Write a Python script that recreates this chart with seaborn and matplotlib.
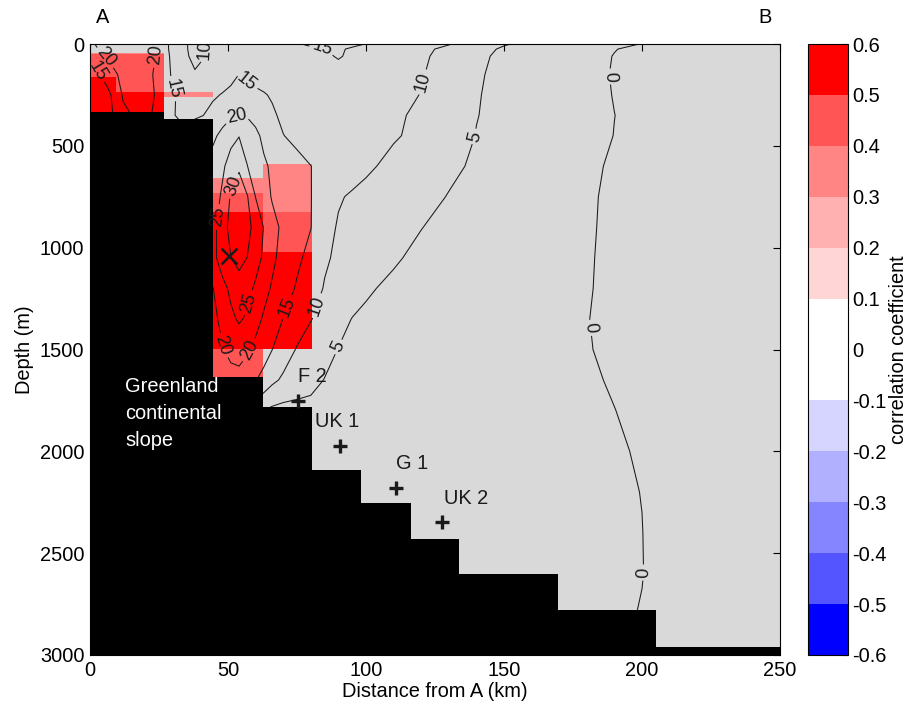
import numpy as np
import matplotlib
matplotlib.use("Agg")
import matplotlib.pyplot as plt
import seaborn as sns
from matplotlib.colors import ListedColormap, BoundaryNorm
from matplotlib.cm import ScalarMappable

# ---------------- data ----------------
# bathymetry (step edges in km, bottom depth in m)
bathy_x = [0, 26.8, 44.5, 62.6, 80.3, 98.2, 116.2, 133.8, 169.4, 205, 250]
bathy_depth = [335, 368, 1636, 1781, 2092, 2254, 2428, 2604, 2781, 2961]

# correlation cells
corr_x_edges = [0, 9.3, 26.8, 44.5, 62.6, 80.3]
corr_depth_edges = [42, 50, 161, 235, 259, 335, 590, 660, 733, 825, 1022, 1497, 1636]
nan = np.nan
corr_values = [
    [0.35, 0.35, nan, nan, nan],
    [0.45, 0.45, nan, nan, nan],
    [0.55, 0.45, nan, nan, nan],
    [0.55, 0.55, 0.35, nan, nan],
    [0.55, 0.55, nan, nan, nan],
    [nan, nan, nan, nan, nan],
    [nan, nan, nan, nan, 0.35],
    [nan, nan, nan, 0.35, 0.35],
    [nan, nan, nan, 0.45, 0.35],
    [nan, nan, nan, 0.55, 0.45],
    [nan, nan, nan, 0.55, 0.55],
    [nan, nan, nan, 0.45, nan],
]
corr_levels = [-0.6, -0.5, -0.4, -0.3, -0.2, -0.1, 0, 0.1, 0.2, 0.3, 0.4, 0.5, 0.6]
corr_colors = ['#0000FF', '#5555FF', '#8585FF', '#B0B0FF', '#D5D5FF', '#FFFFFF',
               '#FFFFFF', '#FFD5D5', '#FFB0B0', '#FF8585', '#FF5555', '#FF0000']

# velocity-like field (contoured), read on a coarse grid
speed_x = [0, 6, 12, 18, 24, 30, 35, 38, 41, 44.5, 48, 51, 54, 57, 60, 63, 66, 70, 75,
           80, 85, 90, 95, 100, 110, 120, 130, 140, 150, 160, 170, 180, 190, 200, 210, 230, 250]
speed_depth = [0, 25, 60, 150, 250, 350, 450, 600, 750, 900, 1050, 1200, 1350, 1500,
               1650, 1800, 2000, 2200, 2400, 2600, 2800, 3000]
speed_rows = [
    [19.4, 21.5, 22.5, 22.5, 20.0, 13.2, 10.2, 8.5, 9.9, 11.5, 12.0, 12.3, 12.5, 12.8, 13.2, 13.5, 13.8, 14.2, 14.8, 15.4, 16.0, 16.3, 16.0, 14.9, 13.4, 11.8, 10.25, 7.8, 5.3, 4.1, 3.0, 2.0, 0.9, -0.1, -0.9, -2.0, -2.5],
    [19.2, 20.8, 22.5, 22.5, 20.0, 13.3, 10.2, 8.7, 9.8, 11.2, 11.8, 12.1, 12.3, 12.6, 12.9, 13.2, 13.5, 13.9, 14.3, 14.6, 14.9, 15.6, 14.4, 14.2, 12.6, 11.0, 8.95, 6.3, 4.5, 3.4, 2.3, 1.2, 0.1, -0.7, -1.2, -2.0, -2.5],
    [15.3, 20.1, 22.0, 22.0, 19.9, 13.8, 10.3, 9.2, 9.85, 10.8, 11.4, 11.8, 12.1, 12.3, 12.5, 12.7, 12.9, 13.2, 13.5, 13.8, 14.0, 15.5, 13.9, 13.7, 12.2, 10.7, 8.5, 5.8, 4.2, 3.2, 2.1, 1.0, -0.1, -0.8, -1.3, -2.0, -2.5],
    [12.5, 17.2, 21.4, 21.5, 19.6, 14.3, 10.2, 10.3, 10.8, 11.6, 12.5, 13.8, 15.05, 14.2, 13.5, 13.2, 13.0, 12.9, 12.8, 12.7, 12.6, 12.6, 12.5, 12.4, 11.3, 10.3, 8.0, 5.4, 4.1, 3.0, 1.9, 0.9, -0.2, -0.9, -1.4, -2.1, -2.6],
    [10.5, 13.0, 20.5, 21.2, 19.85, 15.4, 13.5, 13.2, 13.6, 14.3, 15.3, 16.0, 16.3, 16.2, 15.9, 15.3, 14.6, 14.0, 13.5, 13.2, 12.9, 12.6, 12.4, 12.2, 11.1, 9.9, 7.55, 5.2, 4.1, 3.0, 2.0, 0.9, -0.1, -0.8, -1.3, -2.1, -2.6],
    [11.0, 12.5, 19.0, 21.0, 19.6, 15.2, 14.0, 14.3, 14.95, 16.5, 18.0, 19.3, 19.9, 19.5, 18.3, 17.0, 15.6, 14.2, 13.3, 12.8, 12.4, 12.1, 11.8, 11.5, 10.6, 9.3, 7.2, 5.1, 4.05, 3.0, 2.0, 1.0, 0.02, -0.7, -1.3, -2.1, -2.6],
    [15.0, 15.0, 17.0, 19.0, 18.0, 15.3, 15.5, 18.0, 18.5, 19.0, 21.3, 23.5, 24.8, 23.8, 21.2, 18.8, 17.0, 15.1, 13.9, 13.1, 12.5, 12.0, 11.6, 11.2, 10.4, 9.0, 6.9, 4.9, 3.9, 3.0, 2.0, 1.0, -0.05, -0.7, -1.3, -2.1, -2.6],
    [22.0] * 9 + [22.0, 24.2, 27.0, 29.5, 25.05, 23.5, 20.8, 19.2, 17.5, 16.3, 15.05, 13.8, 12.8, 11.8, 10.7, 8.9, 7.3, 5.7, 4.5, 3.5, 2.5, 1.55, 0.6, -0.4, -1.0, -1.5, -2.2, -2.7],
    [22.5] * 9 + [22.5, 25.8, 30.5, 32.0, 30.3, 24.9, 22.2, 19.6, 18.2, 16.6, 15.1, 12.9, 10.4, 9.5, 8.85, 7.5, 6.1, 4.85, 3.96, 3.06, 2.16, 1.26, 0.36, -0.5, -1.1, -1.6, -2.3, -2.8],
    [23.2] * 9 + [23.2, 27.9, 31.5, 33.0, 31.5, 28.3, 24.8, 21.6, 19.0, 17.1, 15.1, 11.6, 9.6, 8.8, 8.1, 6.6, 5.06, 4.24, 3.45, 2.66, 1.87, 1.08, 0.28, -0.5, -1.1, -1.6, -2.3, -2.8],
    [23.5] * 9 + [23.5, 27.5, 29.9, 31.8, 29.9, 27.0, 24.1, 21.0, 18.3, 15.9, 13.6, 10.6, 9.2, 8.2, 7.3, 5.3, 4.4, 3.7, 3.0, 2.3, 1.6, 0.9, 0.2, -0.5, -1.1, -1.6, -2.3, -2.8],
    [19.8] * 9 + [19.8, 23.5, 26.0, 27.5, 26.5, 24.2, 21.5, 19.5, 17.2, 14.5, 12.0, 9.7, 8.4, 6.8, 5.3, 4.5, 3.9, 3.3, 2.65, 2.0, 1.4, 0.8, 0.15, -0.5, -1.1, -1.6, -2.3, -2.8],
    [18.5] * 9 + [18.5, 21.5, 24.0, 25.6, 24.3, 21.5, 19.4, 17.5, 14.9, 12.5, 10.2, 8.3, 6.3, 4.9, 4.6, 4.05, 3.5, 2.9, 2.35, 1.8, 1.2, 0.63, 0.06, -0.5, -1.1, -1.6, -2.3, -2.8],
    [17.5] * 9 + [17.5, 19.7, 21.3, 21.8, 20.6, 18.9, 17.0, 15.05, 12.5, 9.65, 7.9, 6.15, 4.9, 4.65, 4.4, 3.85, 3.3, 2.8, 2.25, 1.7, 1.2, 0.66, 0.13, -0.45, -1.1, -1.6, -2.3, -2.8],
    [15.5] * 9 + [15.5, 17.3, 18.3, 18.5, 17.5, 15.2, 13.5, 11.1, 9.2, 7.6, 6.0, 4.9, 4.66, 4.4, 4.2, 3.7, 3.2, 2.7, 2.23, 1.75, 1.26, 0.78, 0.3, -0.2, -0.8, -1.4, -2.2, -2.7],
    [12.0] * 9 + [12.0, 12.0, 12.0, 11.0, 9.0, 7.0, 5.0, 4.0, 3.5, 3.5, 4.0, 4.4, 4.3, 4.1, 3.9, 3.4, 3.0, 2.55, 2.1, 1.65, 1.2, 0.75, 0.35, 0.03, -0.5, -1.2, -2.1, -2.6],
    [4.5] * 20 + [4.0, 3.9, 3.7, 3.5, 3.1, 2.7, 2.3, 1.9, 1.5, 1.1, 0.75, 0.4, 0.25, -0.2, -1.0, -2.0, -2.6],
    [3.5] * 24 + [3.0, 2.6, 2.2, 1.8, 1.4, 1.05, 0.75, 0.45, 0.2, -0.02, -0.8, -1.9, -2.5],
    [3.0] * 25 + [2.5, 2.1, 1.7, 1.35, 1.0, 0.7, 0.45, 0.2, 0.02, -0.6, -1.8, -2.4],
    [2.5] * 27 + [1.6, 1.3, 1.0, 0.7, 0.45, 0.2, 0.03, -0.5, -1.7, -2.3],
    [1.5] * 30 + [0.8, 0.5, 0.2, -0.05, -0.5, -1.6, -2.2],
    [0.5] * 33 + [-0.2, -0.5, -1.5, -2.0],
]
contour_levels = [0, 5, 10, 15, 20, 25, 30]

# moorings and core marker
mooring_names = ['F 2', 'UK 1', 'G 1', 'UK 2']
mooring_x = [75.5, 90.6, 110.9, 127.6]
mooring_depth = [1751, 1976, 2178, 2346]
core_x = [50.5]
core_depth = [1043]

# ---------------- layout / style ----------------
label_pos = [(188, 160), (180.5, 1395), (201.7, 2595), (139.5, 455), (88.8, 1480),
             (122.5, 193), (82, 1284), (39, 30), (55.4, 202), (71.3, 1292), (84, 30),
             (29, 226), (2.4, 136), (53.1, 357), (48.3, 1480), (58, 1505), (6, 62),
             (24, 54), (45.9, 849), (58.6, 1275), (52.5, 702)]
mooring_label_pos = [(80.6, 1631), (89.7, 1854), (116.6, 2059), (136.1, 2231)]

sns.set_theme(style="white", rc={"text.color": "black", "axes.labelcolor": "black",
                                 "xtick.color": "black", "ytick.color": "black",
                                 "axes.edgecolor": "black"})
plt.rcParams['font.family'] = ['Liberation Sans', 'DejaVu Sans']
plt.rcParams['axes.unicode_minus'] = False
FS = 14.4

fig = plt.figure(figsize=(9.12, 7.07), dpi=100)
ax = fig.add_axes([90 / 912, 52 / 707, 690 / 912, 611 / 707])
cax = fig.add_axes([808 / 912, 52 / 707, 40 / 912, 611 / 707])

ax.set_facecolor('#D9D9D9')
cmap = ListedColormap(corr_colors)
norm = BoundaryNorm(corr_levels, cmap.N)

ax.pcolormesh(corr_x_edges, corr_depth_edges, np.ma.masked_invalid(np.array(corr_values)),
              cmap=cmap, norm=norm, zorder=1)

cs = ax.contour(speed_x, speed_depth, np.array(speed_rows), levels=contour_levels,
                colors='k', linewidths=0.75, linestyles='solid', zorder=2)

ax.stairs(bathy_depth, bathy_x, baseline=3000, fill=True, color='black', zorder=2.5)

sns.scatterplot(x=mooring_x, y=mooring_depth, marker='+', s=90, color='k',
                linewidth=2.4, ax=ax, zorder=5, legend=False)
sns.scatterplot(x=core_x, y=core_depth, marker='x', s=130, color='k',
                linewidth=1.8, ax=ax, zorder=5, legend=False)

ax.set_xlim(0, 250)
ax.set_ylim(3000, 0)
ax.clabel(cs, manual=label_pos, inline=True, inline_spacing=3, fontsize=13, fmt='%d')

for name, (lx, ly) in zip(mooring_names, mooring_label_pos):
    ax.text(lx, ly, name, ha='center', va='center', fontsize=FS, color='k', zorder=6)

ax.text(12.7, 1815, 'Greenland\ncontinental\nslope', ha='left', va='center',
        color='white', fontsize=FS, linespacing=1.55, zorder=6)

ax.text(0.019, 1.043, 'A', transform=ax.transAxes, ha='center', va='center', fontsize=FS)
ax.text(0.978, 1.043, 'B', transform=ax.transAxes, ha='center', va='center', fontsize=FS)

ax.set_xticks([0, 50, 100, 150, 200, 250])
ax.set_yticks([0, 500, 1000, 1500, 2000, 2500, 3000])
ax.tick_params(direction='in', length=5, width=0.8, top=True, right=True,
               labelsize=FS, pad=4)
for sp in ax.spines.values():
    sp.set_color('black')
    sp.set_linewidth(0.8)
    sp.set_zorder(7)
ax.set_xlabel('Distance from A (km)', fontsize=FS, labelpad=2)
ax.set_ylabel('Depth (m)', fontsize=FS, labelpad=4)

sm = ScalarMappable(norm=norm, cmap=cmap)
cb = fig.colorbar(sm, cax=cax, ticks=corr_levels, spacing='proportional')
cb.ax.set_yticklabels([f'{v:g}' for v in corr_levels])
cb.ax.tick_params(labelsize=FS, direction='in', length=4, width=0.8, pad=3)
cb.outline.set_edgecolor('black')
cb.outline.set_linewidth(0.8)
cb.set_label('correlation coefficient', fontsize=FS, labelpad=2)

fig.savefig('out.png', dpi=100)
